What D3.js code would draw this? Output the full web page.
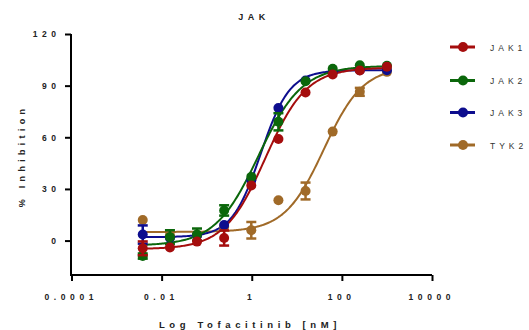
<!DOCTYPE html>
<html><head><meta charset="utf-8">
<script src="https://cdn.jsdelivr.net/npm/d3@7"></script>
<style>body{margin:0;background:#fff}svg{display:block}text{font-family:"Liberation Sans",Arial,sans-serif}</style>
</head><body><svg id="c" width="529" height="330"></svg>
<script>
// concentrations (nM), 4-fold dilution
const conc = [1000, 250, 62.5, 15.625, 3.906, 0.977, 0.244, 0.061, 0.0153, 0.00381];
const seriesNames = ["JAK1", "JAK2", "JAK3", "TYK2"];
const jak1 = [101, 98.8, 96.5, 86, 59, 32, 1.5, -0.6, -4, -4.5];
const jak2 = [101.5, 101.8, 99.8, 92.5, 69, 37, 17.5, 3.5, 2, -9];
const jak3 = [99, 99, 98, 93, 77, 35, 9, 3, 1.5, 3.5];
const tyk2 = [98, 86.4, 63.3, 28.8, 23.4, 6, 8, 3, 3, 12];
const jak1Err = [0, 0, 0, 0, 0, 0, 4.4, 0, 0, 4];
const jak2Err = [0, 0, 0, 0, 5, 0, 3, 3.5, 4, 1.5];
const jak3Err = [0, 0, 0, 0, 0, 0, 0, 0, 0, 5.3];
const tyk2Err = [0, 2.3, 0, 4.9, 0, 4.8, 0, 0, 0, 0];
// 4-parameter logistic fit: [bottom, top, logEC50, hill]
const jak1Fit = [-5, 100.5, 0.3, 0.95];
const jak2Fit = [-3, 101.5, 0.15, 0.9];
const jak3Fit = [2, 99, 0.2, 1.35];
const tyk2Fit = [5, 101, 1.6, 1.0];
const xTicks = [1e-4, 1e-2, 1, 100, 1e4];
const xTickLabels = ["0.0001", "0.01", "1", "100", "10000"];
const yTicks = [0, 30, 60, 90, 120];
const colors = ["#a50d0d", "#0b670b", "#0d0d8e", "#a06a28"];

const values = [jak1, jak2, jak3, tyk2];
const errs = [jak1Err, jak2Err, jak3Err, tyk2Err];
const fits = [jak1Fit, jak2Fit, jak3Fit, tyk2Fit];

const svg = d3.select("#c");
const x = d3.scaleLog().domain([1e-4, 1e4]).range([71.5, 432]);
const y = d3.scaleLinear().domain([-20, 120]).range([275, 34]);

// axes
const LS = 4.6;
const yAx = svg.append("g").attr("transform", "translate(71,0)")
  .call(d3.axisLeft(y).tickValues(yTicks).tickSize(6).tickSizeOuter(0).tickPadding(9).tickFormat(d3.format("d")));
yAx.select(".domain").attr("stroke", "#000").attr("stroke-width", 2).attr("d", `M0,${y(120)}V${y(-20)+1}`);
yAx.selectAll(".tick line").attr("stroke-width", 2);
yAx.selectAll(".tick text").attr("font-size", 8.5).attr("font-weight", "bold").attr("fill", "#222")
  .style("letter-spacing", LS + "px").attr("dx", (LS) + "px").attr("dy", "0.32em");

const xAx = svg.append("g").attr("transform", "translate(0,275)")
  .call(d3.axisBottom(x).tickValues(xTicks).tickSize(6).tickSizeOuter(0).tickPadding(13).tickFormat((d, i) => xTickLabels[i]));
xAx.select(".domain").attr("stroke", "#000").attr("stroke-width", 2).attr("d", `M70,0H${x(1e4)}`);
xAx.selectAll(".tick line").attr("stroke-width", 2);
xAx.selectAll(".tick text").attr("font-size", 8.5).attr("font-weight", "bold").attr("fill", "#222")
  .style("letter-spacing", LS + "px").attr("dx", (LS / 2 - 3) + "px");

// titles
svg.append("text").attr("x", 254).attr("y", 20).attr("text-anchor", "middle")
  .attr("font-size", 9).attr("font-weight", "bold").style("letter-spacing", "4.5px").attr("fill", "#222").text("JAK");
svg.append("text").attr("x", 250).attr("y", 328).attr("text-anchor", "middle")
  .attr("font-size", 9.5).attr("font-weight", "bold").style("letter-spacing", "4.6px").attr("fill", "#222").text("Log Tofacitinib [nM]");
svg.append("text").attr("transform", "translate(25,156) rotate(-90)").attr("text-anchor", "middle")
  .attr("font-size", 9).attr("font-weight", "bold").style("letter-spacing", "4.3px").attr("fill", "#222").text("% Inhibition");

// curves
const logistic = (p, lx) => p[0] + (p[1] - p[0]) / (1 + Math.pow(10, (p[2] - lx) * p[3]));
const lx0 = Math.log10(d3.min(conc)), lx1 = Math.log10(d3.max(conc));
const line = d3.line().x(d => x(d[0])).y(d => y(d[1])).curve(d3.curveLinear);
const order = [3, 2, 1, 0];
order.forEach(s => {
  const pts = d3.range(0, 201).map(i => { const lx = lx0 + (lx1 - lx0) * i / 200; return [Math.pow(10, lx), logistic(fits[s], lx)]; });
  svg.append("path").attr("d", line(pts)).attr("fill", "none").attr("stroke", colors[s]).attr("stroke-width", 2);
});
// error bars and points
order.forEach(s => {
  const g = svg.append("g").attr("stroke", colors[s]).attr("fill", colors[s]);
  conc.forEach((c, i) => {
    const e = errs[s][i];
    if (e > 0) {
      const cx = x(c), y1 = y(values[s][i] + e), y2 = y(values[s][i] - e);
      g.append("line").attr("x1", cx).attr("x2", cx).attr("y1", y1).attr("y2", y2).attr("stroke-width", 2.5);
      g.append("line").attr("x1", cx - 5).attr("x2", cx + 5).attr("y1", y1).attr("y2", y1).attr("stroke-width", 2.5);
      g.append("line").attr("x1", cx - 5).attr("x2", cx + 5).attr("y1", y2).attr("y2", y2).attr("stroke-width", 2.5);
    }
  });
  g.selectAll("circle").data(conc).enter().append("circle")
    .attr("cx", d => x(d)).attr("cy", (d, i) => y(values[s][i])).attr("r", 5).attr("stroke", "none");
});

// legend
const legY = [47, 80.5, 112.5, 145];
seriesNames.forEach((n, s) => {
  const g = svg.append("g").attr("transform", `translate(0,${legY[s]})`);
  g.append("line").attr("x1", 450).attr("x2", 475).attr("stroke", colors[s]).attr("stroke-width", 3);
  g.append("circle").attr("cx", 463).attr("r", 5).attr("fill", colors[s]);
  g.append("text").attr("x", 490).attr("y", 3.5).attr("font-size", 8.5).style("letter-spacing", "4px").attr("fill", "#333").text(n);
});
</script></body></html>
